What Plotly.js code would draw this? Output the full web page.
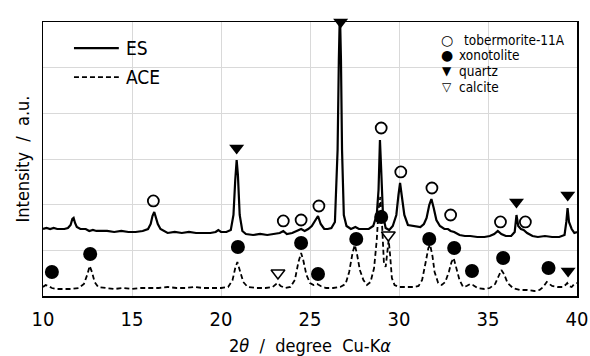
<!DOCTYPE html>
<html>
<head>
<meta charset="utf-8">
<script src="https://cdn.plot.ly/plotly-3.0.1.min.js"></script>
<style>
  html, body { margin: 0; padding: 0; background: #ffffff; }
  #chart { width: 590px; height: 356px; }
</style>
</head>
<body>
<div id="chart"></div>
<script>
// XRD patterns, 2-theta (deg, Cu-K alpha) vs intensity (a.u.)
const esX = [10.0, 10.2, 10.4, 10.6, 10.8, 11.0, 11.2, 11.4, 11.55, 11.65, 11.72, 11.8, 11.9, 12.1, 12.4, 12.6, 12.8, 13.0, 13.3, 13.6,
  14.0, 14.4, 14.8, 15.2, 15.6, 15.9, 16.05, 16.15, 16.25, 16.35, 16.45, 16.6, 16.8, 17.0, 17.4, 17.8, 18.2, 18.6, 19.0, 19.4,
  19.7, 19.85, 20.0, 20.3, 20.55, 20.7, 20.8, 20.88, 20.95, 21.05, 21.2, 21.4, 21.8, 22.2, 22.6, 23.0, 23.3, 23.5, 23.7, 24.0,
  24.3, 24.5, 24.7, 24.9, 25.1, 25.3, 25.45, 25.6, 25.8, 26.0, 26.2, 26.4, 26.55, 26.62, 26.68, 26.74, 26.8, 26.9, 27.05, 27.3,
  27.55, 27.75, 28.0, 28.3, 28.55, 28.75, 28.85, 28.93, 29.0, 29.1, 29.25, 29.45, 29.65, 29.85, 29.97, 30.06, 30.15, 30.3, 30.5, 30.8,
  31.0, 31.2, 31.4, 31.55, 31.7, 31.82, 31.95, 32.1, 32.3, 32.55, 32.75, 32.9, 33.1, 33.4, 33.7, 34.0, 34.4, 34.8, 35.1, 35.35,
  35.55, 35.75, 36.0, 36.3, 36.5, 36.6, 36.7, 36.85, 37.0, 37.2, 37.5, 37.8, 38.2, 38.6, 39.0, 39.3, 39.4, 39.47, 39.55, 39.7,
  39.85, 40.0];
const esY = [1467, 1489, 1467, 1489, 1467, 1467, 1467, 1489, 1555, 1686, 1708, 1599, 1511, 1467, 1467, 1424, 1445, 1424, 1424, 1424,
  1402, 1424, 1402, 1402, 1424, 1467, 1577, 1752, 1840, 1730, 1577, 1467, 1424, 1380, 1402, 1380, 1402, 1380, 1380, 1380,
  1402, 1445, 1402, 1402, 1445, 1774, 2540, 2978, 2650, 1774, 1424, 1358, 1336, 1358, 1336, 1358, 1380, 1424, 1358, 1380,
  1424, 1467, 1424, 1467, 1533, 1664, 1752, 1577, 1467, 1467, 1489, 1621, 3197, 5168, 6263, 5168, 3197, 1774, 1533, 1467,
  1511, 1467, 1467, 1467, 1533, 1774, 2321, 3416, 2759, 1774, 1489, 1445, 1533, 1774, 2212, 2475, 2212, 1774, 1555, 1533,
  1533, 1511, 1577, 1708, 1993, 2124, 1927, 1664, 1533, 1467, 1467, 1424, 1402, 1336, 1314, 1314, 1292, 1292, 1314, 1358,
  1424, 1358, 1314, 1314, 1402, 1774, 1533, 1467, 1445, 1380, 1314, 1292, 1314, 1292, 1292, 1336, 1621, 1927, 1621, 1467,
  1380, 1402];

const aceX = [10.0, 10.15, 10.3, 10.5, 10.8, 11.2, 11.6, 12.0, 12.3, 12.5, 12.62, 12.75, 12.9, 13.1, 13.5, 14.0, 14.5, 15.0, 15.5, 16.0,
  16.5, 17.0, 17.5, 18.0, 18.5, 19.0, 19.5, 20.0, 20.4, 20.65, 20.8, 20.92, 21.05, 21.25, 21.5, 22.0, 22.5, 22.9, 23.1, 23.2,
  23.35, 23.6, 23.9, 24.15, 24.35, 24.5, 24.62, 24.8, 25.0, 25.2, 25.4, 25.6, 25.9, 26.3, 26.7, 27.0, 27.2, 27.4, 27.52, 27.65,
  27.8, 28.0, 28.2, 28.4, 28.6, 28.75, 28.85, 28.95, 29.05, 29.15, 29.25, 29.35, 29.42, 29.5, 29.6, 29.75, 30.0, 30.4, 30.8, 31.1,
  31.3, 31.5, 31.65, 31.75, 31.88, 32.0, 32.2, 32.4, 32.6, 32.8, 32.95, 33.07, 33.2, 33.4, 33.6, 33.8, 34.0, 34.15, 34.4, 34.8,
  35.1, 35.4, 35.6, 35.75, 35.9, 36.1, 36.4, 36.8, 37.2, 37.6, 37.9, 38.1, 38.3, 38.45, 38.6, 38.9, 39.2, 39.35, 39.45, 39.55,
  39.7, 39.85, 40.0];
const aceY = [197, 241, 219, 175, 153, 153, 153, 175, 263, 482, 657, 526, 307, 197, 175, 153, 175, 153, 175, 175,
  175, 197, 175, 175, 197, 175, 175, 175, 197, 350, 613, 745, 569, 307, 197, 175, 175, 197, 263, 285,
  219, 175, 197, 350, 745, 942, 788, 460, 285, 241, 263, 219, 175, 175, 197, 263, 526, 964, 1117, 898,
  569, 350, 241, 307, 613, 1226, 1883, 2168, 1555, 745, 635, 1007, 1226, 898, 394, 241, 197, 197, 197, 219,
  350, 745, 1051, 1117, 876, 526, 285, 241, 307, 526, 745, 832, 657, 350, 197, 219, 263, 241, 175, 153,
  175, 263, 438, 569, 482, 285, 175, 131, 131, 110, 131, 197, 307, 263, 219, 197, 197, 241, 285, 219,
  197, 263, 285];

// Phase identification marks placed over the peaks
const tobX = [16.2, 23.5, 24.5, 25.5, 29.0, 30.1, 31.85, 32.9, 35.7, 37.1];
const tobY = [2081, 1643, 1664, 1971, 3679, 2716, 2365, 1774, 1621, 1621];
const xonX = [10.5, 12.65, 20.95, 24.5, 25.45, 27.6, 29.0, 31.7, 33.1, 34.1, 35.85, 38.4];
const xonY = [526, 920, 1073, 1161, 482, 1248, 1730, 1248, 1051, 548, 832, 613];
const qtzX = [20.88, 26.72, 36.6, 39.48, 39.5];
const qtzY = [3241, 5999, 2059, 2212, 548];
const calX = [23.2, 29.4];
const calY = [504, 1336];

const seriesNames = ['ES', 'ACE'];
const phaseNames = ['tobermorite-11A', 'xonotolite', 'quartz', 'calcite'];
const xTicks = [10, 15, 20, 25, 30, 35, 40];

const FONT = '"Liberation Sans Narrow", "DejaVu Sans Condensed", "Noto Sans CJK JP", sans-serif';
const SYM = '"DejaVu Sans", sans-serif';

const traces = [
  { x: esX, y: esY, name: seriesNames[0], mode: 'lines', showlegend: false,
    line: { color: '#000000', width: 2.2 } },
  { x: aceX, y: aceY, name: seriesNames[1], mode: 'lines', showlegend: false,
    line: { color: '#000000', width: 1.8, dash: '5px,3px' } },
  { x: tobX, y: tobY, name: phaseNames[0], mode: 'markers', showlegend: false, cliponaxis: false,
    marker: { symbol: 'circle-open', size: 11, color: '#000000', line: { width: 1.8 } } },
  { x: xonX, y: xonY, name: phaseNames[1], mode: 'markers', showlegend: false, cliponaxis: false,
    marker: { symbol: 'circle', size: 14, color: '#000000' } },
  { x: qtzX, y: qtzY, name: phaseNames[2], mode: 'markers', showlegend: false, cliponaxis: false,
    marker: { symbol: 'triangle-down', size: 13, color: '#000000' } },
  { x: calX, y: calY, name: phaseNames[3], mode: 'markers', showlegend: false, cliponaxis: false,
    marker: { symbol: 'triangle-down-open', size: 12, color: '#000000', line: { width: 1.5 } } }
];

// Legend boxes and keys (paper coordinates of the plotting area)
const shapes = [
  { type: 'rect', xref: 'paper', yref: 'paper', x0: 0.043, x1: 0.230, y0: 0.752, y1: 0.998,
    layer: 'between', fillcolor: '#ffffff', line: { width: 0 } },
  { type: 'rect', xref: 'paper', yref: 'paper', x0: 0.730, x1: 0.994, y0: 0.715, y1: 0.998,
    layer: 'between', fillcolor: '#ffffff', line: { width: 0 } },
  { type: 'line', xref: 'paper', yref: 'paper', x0: 0.058, x1: 0.142, y0: 0.905, y1: 0.905,
    line: { color: '#000000', width: 2.2 } },
  { type: 'line', xref: 'paper', yref: 'paper', x0: 0.058, x1: 0.142, y0: 0.799, y1: 0.799,
    line: { color: '#000000', width: 1.8, dash: '5px,3px' } }
];

const ann = (x, y, text, size, family, anchor) => ({
  xref: 'paper', yref: 'paper', x: x, y: y, xanchor: anchor || 'left', yanchor: 'middle',
  text: text, showarrow: false, font: { family: family || FONT, size: size, color: '#000000' }
});

const annotations = [
  ann(0.151, 0.905, seriesNames[0], 19),
  ann(0.151, 0.799, seriesNames[1], 19),
  ann(0.757, 0.934, '\u25CB', 14, SYM, 'center'),
  ann(0.757, 0.880, '\u25CF', 14, SYM, 'center'),
  ann(0.757, 0.821, '\u25BC', 12, SYM, 'center'),
  ann(0.757, 0.763, '\u25BD', 12, SYM, 'center'),
  ann(0.785, 0.934, phaseNames[0], 13.5),
  ann(0.775, 0.880, phaseNames[1], 13.5),
  ann(0.775, 0.821, phaseNames[2], 13.5),
  ann(0.775, 0.763, phaseNames[3], 13.5)
];

const layout = {
  width: 590, height: 356,
  margin: { l: 43, r: 13, t: 22, b: 60 },
  paper_bgcolor: '#ffffff', plot_bgcolor: '#ffffff',
  font: { family: FONT, color: '#000000' },
  showlegend: false,
  xaxis: {
    range: [10, 40], tickvals: xTicks, ticktext: xTicks.map(String),
    showgrid: true, gridcolor: '#d9d9d9', gridwidth: 1, zeroline: false,
    showline: true, mirror: true, linecolor: '#000000', linewidth: 1.5,
    ticks: '', ticklabelstandoff: 4, tickfont: { family: FONT, size: 20 },
    title: { text: '2<i>θ</i>  /  degree  Cu-K<i>α</i>', font: { family: FONT, size: 18 }, standoff: 10 }
  },
  yaxis: {
    range: [0, 6000], dtick: 1000, showticklabels: false,
    showgrid: true, gridcolor: '#d9d9d9', gridwidth: 1, zeroline: false,
    showline: true, mirror: true, linecolor: '#000000', linewidth: 1.5, ticks: '',
    title: { text: 'Intensity  /  a.u.', font: { family: FONT, size: 18 }, standoff: 7 }
  },
  shapes: shapes,
  annotations: annotations
};

Plotly.newPlot('chart', traces, layout, { staticPlot: true, displayModeBar: false });
</script>
</body>
</html>
